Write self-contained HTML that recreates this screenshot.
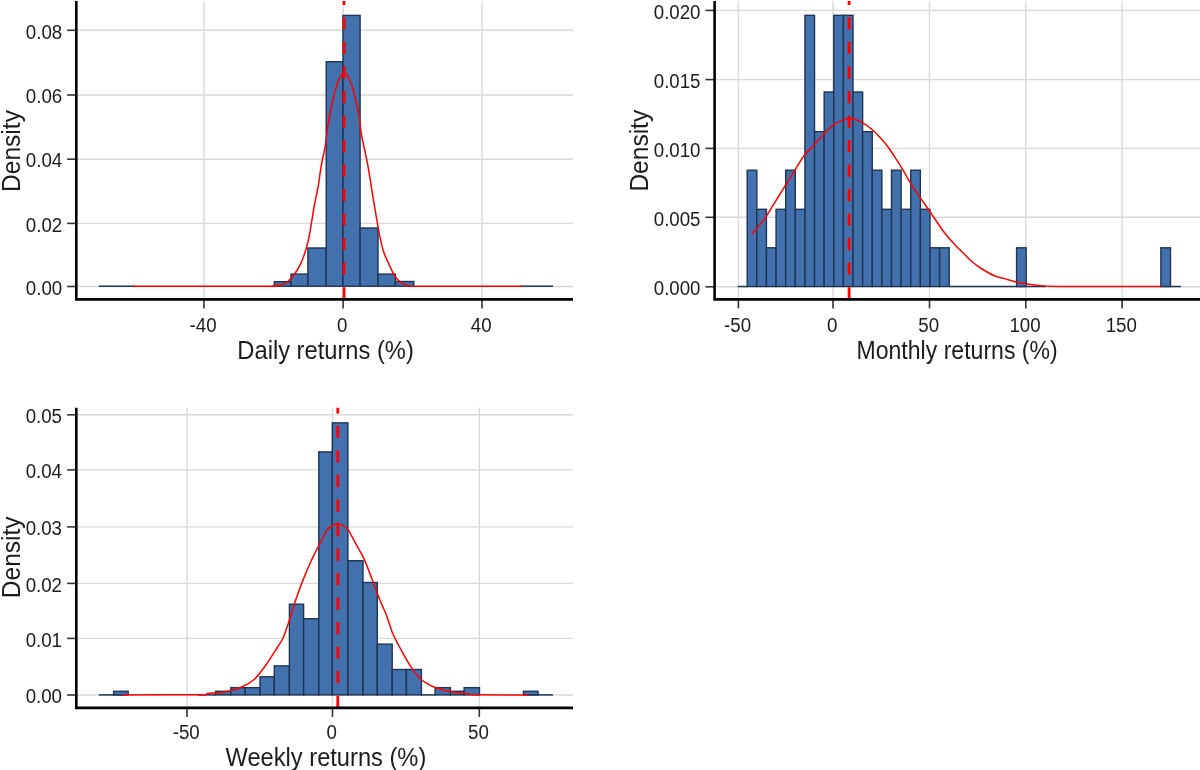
<!DOCTYPE html>
<html><head><meta charset="utf-8"><title>Returns histograms</title>
<style>html,body{margin:0;padding:0;background:#fff;width:1200px;height:770px;overflow:hidden;font-family:"Liberation Sans",sans-serif;}svg{display:block;filter:blur(0.45px)}</style>
</head><body>
<svg width="1200" height="770" viewBox="0 0 1200 770" font-family="Liberation Sans, sans-serif">
<rect x="0" y="0" width="1200" height="770" fill="#ffffff"/>
<line x1="76.3" y1="286.5" x2="573" y2="286.5" stroke="#D9D9D9" stroke-width="1.4"/>
<line x1="76.3" y1="223.4" x2="573" y2="223.4" stroke="#D9D9D9" stroke-width="1.4"/>
<line x1="76.3" y1="159.2" x2="573" y2="159.2" stroke="#D9D9D9" stroke-width="1.4"/>
<line x1="76.3" y1="95" x2="573" y2="95" stroke="#D9D9D9" stroke-width="1.4"/>
<line x1="76.3" y1="30.3" x2="573" y2="30.3" stroke="#D9D9D9" stroke-width="1.4"/>
<line x1="203.9" y1="1" x2="203.9" y2="299.4" stroke="#D9D9D9" stroke-width="1.4"/>
<line x1="343.1" y1="1" x2="343.1" y2="299.4" stroke="#D9D9D9" stroke-width="1.4"/>
<line x1="482" y1="1" x2="482" y2="299.4" stroke="#D9D9D9" stroke-width="1.4"/>
<line x1="98.8" y1="286.2" x2="134" y2="286.2" stroke="#1F3552" stroke-width="1.5"/>
<line x1="521" y1="286.2" x2="553" y2="286.2" stroke="#1F3552" stroke-width="1.5"/>
<rect x="274.3" y="281.7" width="16.7" height="4.5" fill="#4271AE" stroke="#1F3552" stroke-width="1.4"/>
<rect x="291" y="274.1" width="16.9" height="12.1" fill="#4271AE" stroke="#1F3552" stroke-width="1.4"/>
<rect x="307.9" y="248" width="18.3" height="38.2" fill="#4271AE" stroke="#1F3552" stroke-width="1.4"/>
<rect x="326.2" y="61.7" width="16.8" height="224.5" fill="#4271AE" stroke="#1F3552" stroke-width="1.4"/>
<rect x="343" y="15.4" width="17.1" height="270.8" fill="#4271AE" stroke="#1F3552" stroke-width="1.4"/>
<rect x="360.1" y="228" width="17.9" height="58.2" fill="#4271AE" stroke="#1F3552" stroke-width="1.4"/>
<rect x="378" y="274.1" width="17.4" height="12.1" fill="#4271AE" stroke="#1F3552" stroke-width="1.4"/>
<rect x="395.4" y="281.5" width="18.4" height="4.7" fill="#4271AE" stroke="#1F3552" stroke-width="1.4"/>
<path d="M132.5,286.2 C154.58,286.2 241.75,286.23 265,286.2 C288.25,286.17 269.95,286.1 272,286 C274.05,285.9 275.75,285.8 277.3,285.6 C278.85,285.4 280.1,285.13 281.3,284.8 C282.5,284.47 283.47,284.08 284.5,283.6 C285.53,283.12 286.28,282.95 287.5,281.9 C288.72,280.85 290.17,279.28 291.8,277.3 C293.43,275.32 295.48,273.03 297.3,270 C299.12,266.97 300.88,263.95 302.7,259.1 C304.52,254.25 306.73,246.97 308.2,240.9 C309.67,234.83 310.45,228.77 311.5,222.7 C312.55,216.63 313.38,210.55 314.5,204.5 C315.62,198.45 317.25,191.73 318.2,186.4 C319.15,181.07 319.55,176.72 320.2,172.5 C320.85,168.28 321.23,165.6 322.1,161.1 C322.97,156.6 324.53,150.7 325.4,145.5 C326.27,140.3 326.55,135.08 327.3,129.9 C328.05,124.72 329.03,119.15 329.9,114.4 C330.77,109.65 331.52,105.73 332.5,101.4 C333.48,97.07 334.5,92.52 335.8,88.4 C337.1,84.28 338.9,79.33 340.3,76.7 C341.7,74.07 342.9,72.6 344.2,72.6 C345.5,72.6 346.68,74.07 348.1,76.7 C349.52,79.33 351.28,83.85 352.7,88.4 C354.12,92.95 355.52,99.23 356.6,104 C357.68,108.77 358.45,112.25 359.2,117 C359.95,121.75 360.35,127.75 361.1,132.5 C361.85,137.25 362.72,140.73 363.7,145.5 C364.68,150.27 366.03,156.18 367,161.1 C367.97,166.02 368.55,169.27 369.5,175 C370.45,180.73 371.4,187.55 372.7,195.5 C374,203.45 376.08,215.73 377.3,222.7 C378.52,229.67 378.95,232.45 380,237.3 C381.05,242.15 382.08,247.27 383.6,251.8 C385.12,256.33 387.12,260.25 389.1,264.5 C391.08,268.75 393.23,274.12 395.5,277.3 C397.77,280.48 400.43,282.15 402.7,283.6 C404.97,285.05 406.22,285.57 409.1,286 C411.98,286.43 401.1,286.17 420,286.2 C438.9,286.23 505.42,286.2 522.5,286.2" fill="none" stroke="#FF0000" stroke-width="1.5" stroke-linejoin="round"/>
<line x1="344" y1="299.4" x2="344" y2="1" stroke="#FF0000" stroke-width="2.8" stroke-dasharray="12.27 12.26"/>
<line x1="67.1" y1="286.5" x2="76.3" y2="286.5" stroke="#333333" stroke-width="1.6"/>
<text font-size="18.7" text-anchor="end" fill="#1c1c1c" transform="translate(62.2 294.7) scale(1 1.06)">0.00</text>
<line x1="67.1" y1="223.4" x2="76.3" y2="223.4" stroke="#333333" stroke-width="1.6"/>
<text font-size="18.7" text-anchor="end" fill="#1c1c1c" transform="translate(62.2 231.6) scale(1 1.06)">0.02</text>
<line x1="67.1" y1="159.2" x2="76.3" y2="159.2" stroke="#333333" stroke-width="1.6"/>
<text font-size="18.7" text-anchor="end" fill="#1c1c1c" transform="translate(62.2 167.4) scale(1 1.06)">0.04</text>
<line x1="67.1" y1="95" x2="76.3" y2="95" stroke="#333333" stroke-width="1.6"/>
<text font-size="18.7" text-anchor="end" fill="#1c1c1c" transform="translate(62.2 103.2) scale(1 1.06)">0.06</text>
<line x1="67.1" y1="30.3" x2="76.3" y2="30.3" stroke="#333333" stroke-width="1.6"/>
<text font-size="18.7" text-anchor="end" fill="#1c1c1c" transform="translate(62.2 38.5) scale(1 1.06)">0.08</text>
<line x1="203.9" y1="299.4" x2="203.9" y2="308.4" stroke="#333333" stroke-width="1.6"/>
<text font-size="18.7" text-anchor="middle" fill="#1c1c1c" transform="translate(203.1 332.2) scale(1 1.06)">-40</text>
<line x1="343.1" y1="299.4" x2="343.1" y2="308.4" stroke="#333333" stroke-width="1.6"/>
<text font-size="18.7" text-anchor="middle" fill="#1c1c1c" transform="translate(342.3 332.2) scale(1 1.06)">0</text>
<line x1="482" y1="299.4" x2="482" y2="308.4" stroke="#333333" stroke-width="1.6"/>
<text font-size="18.7" text-anchor="middle" fill="#1c1c1c" transform="translate(481.2 332.2) scale(1 1.06)">40</text>
<path d="M76.3,1 L76.3,299.4 L573,299.4" fill="none" stroke="#000000" stroke-width="2.6" stroke-linejoin="miter" stroke-linecap="butt"/>
<text x="0" y="0" font-size="23.4" text-anchor="middle" fill="#1c1c1c" transform="translate(325.6 358.7) scale(1.013 1.08)">Daily returns (%)</text>
<text x="0" y="0" font-size="23.5" text-anchor="middle" fill="#1c1c1c" transform="translate(19.6 151) rotate(-90) scale(1.045 1.06)">Density</text>
<line x1="714.6" y1="286.8" x2="1205" y2="286.8" stroke="#D9D9D9" stroke-width="1.4"/>
<line x1="714.6" y1="217.3" x2="1205" y2="217.3" stroke="#D9D9D9" stroke-width="1.4"/>
<line x1="714.6" y1="148.4" x2="1205" y2="148.4" stroke="#D9D9D9" stroke-width="1.4"/>
<line x1="714.6" y1="79.6" x2="1205" y2="79.6" stroke="#D9D9D9" stroke-width="1.4"/>
<line x1="714.6" y1="10.4" x2="1205" y2="10.4" stroke="#D9D9D9" stroke-width="1.4"/>
<line x1="738.4" y1="1" x2="738.4" y2="299.4" stroke="#D9D9D9" stroke-width="1.4"/>
<line x1="833" y1="1" x2="833" y2="299.4" stroke="#D9D9D9" stroke-width="1.4"/>
<line x1="929.5" y1="1" x2="929.5" y2="299.4" stroke="#D9D9D9" stroke-width="1.4"/>
<line x1="1025.8" y1="1" x2="1025.8" y2="299.4" stroke="#D9D9D9" stroke-width="1.4"/>
<line x1="1122.1" y1="1" x2="1122.1" y2="299.4" stroke="#D9D9D9" stroke-width="1.4"/>
<line x1="737.7" y1="286.5" x2="748" y2="286.5" stroke="#1F3552" stroke-width="1.5"/>
<line x1="949" y1="286.5" x2="1046" y2="286.5" stroke="#1F3552" stroke-width="1.5"/>
<line x1="1160" y1="286.5" x2="1181" y2="286.5" stroke="#1F3552" stroke-width="1.5"/>
<rect x="747.2" y="170.2" width="9.62" height="116.3" fill="#4271AE" stroke="#1F3552" stroke-width="1.4"/>
<rect x="756.82" y="209.3" width="9.62" height="77.2" fill="#4271AE" stroke="#1F3552" stroke-width="1.4"/>
<rect x="766.44" y="247.8" width="9.62" height="38.7" fill="#4271AE" stroke="#1F3552" stroke-width="1.4"/>
<rect x="776.06" y="209.3" width="9.62" height="77.2" fill="#4271AE" stroke="#1F3552" stroke-width="1.4"/>
<rect x="785.68" y="170.2" width="9.62" height="116.3" fill="#4271AE" stroke="#1F3552" stroke-width="1.4"/>
<rect x="795.3" y="209.3" width="9.62" height="77.2" fill="#4271AE" stroke="#1F3552" stroke-width="1.4"/>
<rect x="804.92" y="15.3" width="9.62" height="271.2" fill="#4271AE" stroke="#1F3552" stroke-width="1.4"/>
<rect x="814.54" y="131.7" width="9.62" height="154.8" fill="#4271AE" stroke="#1F3552" stroke-width="1.4"/>
<rect x="824.16" y="92" width="9.62" height="194.5" fill="#4271AE" stroke="#1F3552" stroke-width="1.4"/>
<rect x="833.78" y="15.3" width="9.62" height="271.2" fill="#4271AE" stroke="#1F3552" stroke-width="1.4"/>
<rect x="843.4" y="15.3" width="9.62" height="271.2" fill="#4271AE" stroke="#1F3552" stroke-width="1.4"/>
<rect x="853.02" y="92" width="9.62" height="194.5" fill="#4271AE" stroke="#1F3552" stroke-width="1.4"/>
<rect x="862.64" y="131.7" width="9.62" height="154.8" fill="#4271AE" stroke="#1F3552" stroke-width="1.4"/>
<rect x="872.26" y="170.2" width="9.62" height="116.3" fill="#4271AE" stroke="#1F3552" stroke-width="1.4"/>
<rect x="881.88" y="209.3" width="9.62" height="77.2" fill="#4271AE" stroke="#1F3552" stroke-width="1.4"/>
<rect x="891.5" y="170.2" width="9.62" height="116.3" fill="#4271AE" stroke="#1F3552" stroke-width="1.4"/>
<rect x="901.12" y="209.3" width="9.62" height="77.2" fill="#4271AE" stroke="#1F3552" stroke-width="1.4"/>
<rect x="910.74" y="170.2" width="9.62" height="116.3" fill="#4271AE" stroke="#1F3552" stroke-width="1.4"/>
<rect x="920.36" y="209.3" width="9.62" height="77.2" fill="#4271AE" stroke="#1F3552" stroke-width="1.4"/>
<rect x="929.99" y="247.8" width="9.62" height="38.7" fill="#4271AE" stroke="#1F3552" stroke-width="1.4"/>
<rect x="939.61" y="247.8" width="9.62" height="38.7" fill="#4271AE" stroke="#1F3552" stroke-width="1.4"/>
<rect x="1016.57" y="247.8" width="9.62" height="38.7" fill="#4271AE" stroke="#1F3552" stroke-width="1.4"/>
<rect x="1160.88" y="247.8" width="9.62" height="38.7" fill="#4271AE" stroke="#1F3552" stroke-width="1.4"/>
<path d="M751.8,234.1 C753.92,231.57 760.77,224.03 764.5,218.9 C768.23,213.77 770.95,208.5 774.2,203.3 C777.45,198.1 780.75,192.9 784,187.7 C787.25,182.5 790.45,177.3 793.7,172.1 C796.95,166.9 800.25,160.88 803.5,156.5 C806.75,152.12 809.95,149.37 813.2,145.8 C816.45,142.23 819.75,138.52 823,135.1 C826.25,131.68 829.45,127.8 832.7,125.3 C835.95,122.8 839.08,121.17 842.5,120.1 C845.92,119.03 849.95,118.52 853.2,118.9 C856.45,119.28 858.92,120.68 862,122.4 C865.08,124.12 868.45,126.43 871.7,129.2 C874.95,131.97 878.57,135.75 881.5,139 C884.43,142.25 886.72,145.13 889.3,148.7 C891.88,152.27 894.42,156.33 897,160.4 C899.58,164.47 902.55,169.32 904.8,173.1 C907.05,176.88 907.82,178.83 910.5,183.1 C913.18,187.37 917.65,193.93 920.9,198.7 C924.15,203.47 926.03,205.98 930,211.7 C933.97,217.42 940.43,227.38 944.7,233 C948.97,238.62 952.48,242.03 955.6,245.4 C958.72,248.77 960.8,250.6 963.4,253.2 C966,255.8 968.35,258.53 971.2,261 C974.05,263.47 976.62,265.53 980.5,268 C984.38,270.47 990.35,273.98 994.5,275.8 C998.65,277.62 1001.77,277.87 1005.4,278.9 C1009.03,279.93 1012.67,281.15 1016.3,282 C1019.93,282.85 1022.52,283.35 1027.2,284 C1031.88,284.65 1038.93,285.5 1044.4,285.9 C1049.87,286.3 1040.52,286.3 1060,286.4 C1079.48,286.5 1144.42,286.48 1161.3,286.5" fill="none" stroke="#FF0000" stroke-width="1.5" stroke-linejoin="round"/>
<line x1="849.1" y1="299.4" x2="849.1" y2="1" stroke="#FF0000" stroke-width="2.8" stroke-dasharray="12.27 12.26"/>
<line x1="705.4" y1="286.8" x2="714.6" y2="286.8" stroke="#333333" stroke-width="1.6"/>
<text font-size="18.7" text-anchor="end" fill="#1c1c1c" transform="translate(700.5 295) scale(1 1.06)">0.000</text>
<line x1="705.4" y1="217.3" x2="714.6" y2="217.3" stroke="#333333" stroke-width="1.6"/>
<text font-size="18.7" text-anchor="end" fill="#1c1c1c" transform="translate(700.5 225.5) scale(1 1.06)">0.005</text>
<line x1="705.4" y1="148.4" x2="714.6" y2="148.4" stroke="#333333" stroke-width="1.6"/>
<text font-size="18.7" text-anchor="end" fill="#1c1c1c" transform="translate(700.5 156.6) scale(1 1.06)">0.010</text>
<line x1="705.4" y1="79.6" x2="714.6" y2="79.6" stroke="#333333" stroke-width="1.6"/>
<text font-size="18.7" text-anchor="end" fill="#1c1c1c" transform="translate(700.5 87.8) scale(1 1.06)">0.015</text>
<line x1="705.4" y1="10.4" x2="714.6" y2="10.4" stroke="#333333" stroke-width="1.6"/>
<text font-size="18.7" text-anchor="end" fill="#1c1c1c" transform="translate(700.5 18.6) scale(1 1.06)">0.020</text>
<line x1="738.4" y1="299.4" x2="738.4" y2="308.4" stroke="#333333" stroke-width="1.6"/>
<text font-size="18.7" text-anchor="middle" fill="#1c1c1c" transform="translate(737.6 332.1) scale(1 1.06)">-50</text>
<line x1="833" y1="299.4" x2="833" y2="308.4" stroke="#333333" stroke-width="1.6"/>
<text font-size="18.7" text-anchor="middle" fill="#1c1c1c" transform="translate(832.2 332.1) scale(1 1.06)">0</text>
<line x1="929.5" y1="299.4" x2="929.5" y2="308.4" stroke="#333333" stroke-width="1.6"/>
<text font-size="18.7" text-anchor="middle" fill="#1c1c1c" transform="translate(928.7 332.1) scale(1 1.06)">50</text>
<line x1="1025.8" y1="299.4" x2="1025.8" y2="308.4" stroke="#333333" stroke-width="1.6"/>
<text font-size="18.7" text-anchor="middle" fill="#1c1c1c" transform="translate(1025 332.1) scale(1 1.06)">100</text>
<line x1="1122.1" y1="299.4" x2="1122.1" y2="308.4" stroke="#333333" stroke-width="1.6"/>
<text font-size="18.7" text-anchor="middle" fill="#1c1c1c" transform="translate(1121.3 332.1) scale(1 1.06)">150</text>
<path d="M714.6,1 L714.6,299.4 L1205,299.4" fill="none" stroke="#000000" stroke-width="2.6" stroke-linejoin="miter" stroke-linecap="butt"/>
<text x="0" y="0" font-size="23.4" text-anchor="middle" fill="#1c1c1c" transform="translate(957.1 359) scale(0.986 1.08)">Monthly returns (%)</text>
<text x="0" y="0" font-size="23.5" text-anchor="middle" fill="#1c1c1c" transform="translate(647.6 150.7) rotate(-90) scale(1.045 1.06)">Density</text>
<line x1="76.3" y1="695" x2="573" y2="695" stroke="#D9D9D9" stroke-width="1.4"/>
<line x1="76.3" y1="638.4" x2="573" y2="638.4" stroke="#D9D9D9" stroke-width="1.4"/>
<line x1="76.3" y1="583.4" x2="573" y2="583.4" stroke="#D9D9D9" stroke-width="1.4"/>
<line x1="76.3" y1="526.9" x2="573" y2="526.9" stroke="#D9D9D9" stroke-width="1.4"/>
<line x1="76.3" y1="469.9" x2="573" y2="469.9" stroke="#D9D9D9" stroke-width="1.4"/>
<line x1="76.3" y1="414.8" x2="573" y2="414.8" stroke="#D9D9D9" stroke-width="1.4"/>
<line x1="187" y1="407.8" x2="187" y2="707.9" stroke="#D9D9D9" stroke-width="1.4"/>
<line x1="332.5" y1="407.8" x2="332.5" y2="707.9" stroke="#D9D9D9" stroke-width="1.4"/>
<line x1="479.3" y1="407.8" x2="479.3" y2="707.9" stroke="#D9D9D9" stroke-width="1.4"/>
<line x1="98.8" y1="694.9" x2="124" y2="694.9" stroke="#1F3552" stroke-width="1.5"/>
<line x1="198" y1="694.9" x2="216" y2="694.9" stroke="#1F3552" stroke-width="1.5"/>
<line x1="421" y1="694.9" x2="436" y2="694.9" stroke="#1F3552" stroke-width="1.5"/>
<line x1="527" y1="694.9" x2="553" y2="694.9" stroke="#1F3552" stroke-width="1.5"/>
<rect x="113.58" y="691.27" width="14.64" height="3.63" fill="#4271AE" stroke="#1F3552" stroke-width="1.4"/>
<rect x="215.6" y="691.27" width="15.2" height="3.63" fill="#4271AE" stroke="#1F3552" stroke-width="1.4"/>
<rect x="230.8" y="687.65" width="14.4" height="7.25" fill="#4271AE" stroke="#1F3552" stroke-width="1.4"/>
<rect x="245.2" y="687.65" width="14.8" height="7.25" fill="#4271AE" stroke="#1F3552" stroke-width="1.4"/>
<rect x="260" y="676.76" width="14.3" height="18.13" fill="#4271AE" stroke="#1F3552" stroke-width="1.4"/>
<rect x="274.3" y="665.88" width="15.1" height="29.02" fill="#4271AE" stroke="#1F3552" stroke-width="1.4"/>
<rect x="289.4" y="604.23" width="14.2" height="90.67" fill="#4271AE" stroke="#1F3552" stroke-width="1.4"/>
<rect x="303.6" y="618.73" width="15.2" height="76.17" fill="#4271AE" stroke="#1F3552" stroke-width="1.4"/>
<rect x="318.8" y="451.89" width="13.5" height="243.01" fill="#4271AE" stroke="#1F3552" stroke-width="1.4"/>
<rect x="332.3" y="422.88" width="15.6" height="272.02" fill="#4271AE" stroke="#1F3552" stroke-width="1.4"/>
<rect x="347.9" y="560.7" width="15.1" height="134.2" fill="#4271AE" stroke="#1F3552" stroke-width="1.4"/>
<rect x="363" y="582.46" width="14.3" height="112.44" fill="#4271AE" stroke="#1F3552" stroke-width="1.4"/>
<rect x="377.3" y="644.12" width="14.9" height="50.78" fill="#4271AE" stroke="#1F3552" stroke-width="1.4"/>
<rect x="392.2" y="669.51" width="14.2" height="25.39" fill="#4271AE" stroke="#1F3552" stroke-width="1.4"/>
<rect x="406.4" y="669.51" width="15" height="25.39" fill="#4271AE" stroke="#1F3552" stroke-width="1.4"/>
<rect x="435.1" y="687.65" width="15.3" height="7.25" fill="#4271AE" stroke="#1F3552" stroke-width="1.4"/>
<rect x="450.4" y="691.27" width="13.7" height="3.63" fill="#4271AE" stroke="#1F3552" stroke-width="1.4"/>
<rect x="464.1" y="687.65" width="15.4" height="7.25" fill="#4271AE" stroke="#1F3552" stroke-width="1.4"/>
<rect x="523.42" y="691.27" width="14.64" height="3.63" fill="#4271AE" stroke="#1F3552" stroke-width="1.4"/>
<path d="M122,694.9 C135,694.87 185.7,694.93 200,694.7 C214.3,694.47 203.47,694 207.8,693.5 C212.13,693 220.37,692.78 226,691.7 C231.63,690.62 236.85,689.08 241.6,687 C246.35,684.92 250.6,682.67 254.5,679.2 C258.4,675.73 261.53,670.97 265,666.2 C268.47,661.43 272.28,655.35 275.3,650.6 C278.32,645.85 280.72,642.88 283.1,637.7 C285.48,632.52 287.43,626 289.6,619.5 C291.77,613 293.72,605.63 296.1,598.7 C298.48,591.77 301.3,584.4 303.9,577.9 C306.5,571.4 309.1,565.32 311.7,559.7 C314.3,554.08 316.9,549.17 319.5,544.2 C322.1,539.23 324.92,533.15 327.3,529.9 C329.68,526.65 332.02,525.77 333.8,524.7 C335.58,523.63 336.47,523.37 338,523.5 C339.53,523.63 341.3,524.43 343,525.5 C344.7,526.57 346.03,526.78 348.2,529.9 C350.37,533.02 353.4,539.45 356,544.2 C358.6,548.95 361.2,552.78 363.8,558.4 C366.4,564.02 369,571.18 371.6,577.9 C374.2,584.62 376.82,592.2 379.4,598.7 C381.98,605.2 384.95,611.27 387.1,616.9 C389.25,622.53 390.13,627.32 392.3,632.5 C394.47,637.68 397.07,642.38 400.1,648 C403.13,653.62 407.03,661 410.5,666.2 C413.97,671.4 417,675.73 420.9,679.2 C424.8,682.67 429.57,685.05 433.9,687 C438.23,688.95 441.72,689.82 446.9,690.9 C452.08,691.98 459.48,692.85 465,693.5 C470.52,694.15 469.38,694.57 480,694.8 C490.62,695.03 520.58,694.88 528.7,694.9" fill="none" stroke="#FF0000" stroke-width="1.5" stroke-linejoin="round"/>
<line x1="337.8" y1="707.9" x2="337.8" y2="407.8" stroke="#FF0000" stroke-width="2.8" stroke-dasharray="12.27 12.26"/>
<line x1="67.1" y1="695" x2="76.3" y2="695" stroke="#333333" stroke-width="1.6"/>
<text font-size="18.7" text-anchor="end" fill="#1c1c1c" transform="translate(62 703.2) scale(1 1.06)">0.00</text>
<line x1="67.1" y1="638.4" x2="76.3" y2="638.4" stroke="#333333" stroke-width="1.6"/>
<text font-size="18.7" text-anchor="end" fill="#1c1c1c" transform="translate(62 646.6) scale(1 1.06)">0.01</text>
<line x1="67.1" y1="583.4" x2="76.3" y2="583.4" stroke="#333333" stroke-width="1.6"/>
<text font-size="18.7" text-anchor="end" fill="#1c1c1c" transform="translate(62 591.6) scale(1 1.06)">0.02</text>
<line x1="67.1" y1="526.9" x2="76.3" y2="526.9" stroke="#333333" stroke-width="1.6"/>
<text font-size="18.7" text-anchor="end" fill="#1c1c1c" transform="translate(62 535.1) scale(1 1.06)">0.03</text>
<line x1="67.1" y1="469.9" x2="76.3" y2="469.9" stroke="#333333" stroke-width="1.6"/>
<text font-size="18.7" text-anchor="end" fill="#1c1c1c" transform="translate(62 478.1) scale(1 1.06)">0.04</text>
<line x1="67.1" y1="414.8" x2="76.3" y2="414.8" stroke="#333333" stroke-width="1.6"/>
<text font-size="18.7" text-anchor="end" fill="#1c1c1c" transform="translate(62 423) scale(1 1.06)">0.05</text>
<line x1="187" y1="707.9" x2="187" y2="716.9" stroke="#333333" stroke-width="1.6"/>
<text font-size="18.7" text-anchor="middle" fill="#1c1c1c" transform="translate(186.2 738.5) scale(1 1.06)">-50</text>
<line x1="332.5" y1="707.9" x2="332.5" y2="716.9" stroke="#333333" stroke-width="1.6"/>
<text font-size="18.7" text-anchor="middle" fill="#1c1c1c" transform="translate(331.7 738.5) scale(1 1.06)">0</text>
<line x1="479.3" y1="707.9" x2="479.3" y2="716.9" stroke="#333333" stroke-width="1.6"/>
<text font-size="18.7" text-anchor="middle" fill="#1c1c1c" transform="translate(478.5 738.5) scale(1 1.06)">50</text>
<path d="M76.3,407.8 L76.3,707.9 L573,707.9" fill="none" stroke="#000000" stroke-width="2.6" stroke-linejoin="miter" stroke-linecap="butt"/>
<text x="0" y="0" font-size="23.4" text-anchor="middle" fill="#1c1c1c" transform="translate(325.9 765.8) scale(1.012 1.08)">Weekly returns (%)</text>
<text x="0" y="0" font-size="23.5" text-anchor="middle" fill="#1c1c1c" transform="translate(19.8 557.3) rotate(-90) scale(1.045 1.06)">Density</text>
</svg>
</body></html>
